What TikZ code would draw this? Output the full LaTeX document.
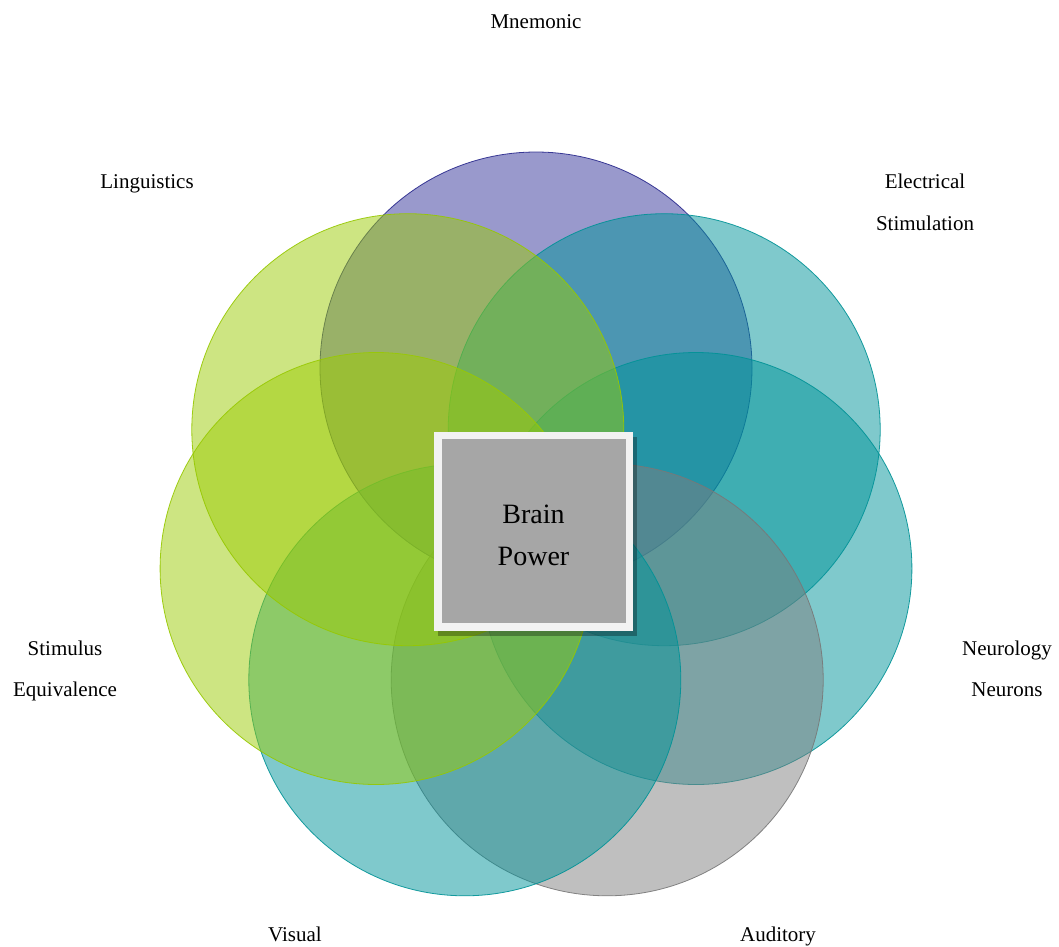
\documentclass[tikz,border=0pt]{standalone}
\usepackage{fontspec}
\setmainfont{Liberation Serif}
\usetikzlibrary{shadows}

\definecolor{violetfill}{RGB}{51,51,153}
\definecolor{violetline}{RGB}{40,40,140}
\definecolor{tealfill}{RGB}{0,147,153}
\definecolor{tealline}{RGB}{0,146,150}
\definecolor{limefill}{RGB}{155,203,5}
\definecolor{limeline}{RGB}{150,200,0}
\definecolor{greyfill}{RGB}{127,127,127}
\definecolor{greyline}{RGB}{120,120,120}
\definecolor{boxframe}{RGB}{242,242,242}
\definecolor{boxfill}{RGB}{166,166,166}

\begin{document}
\begin{tikzpicture}[x=1pt,y=-1pt,
  petal/.style 2 args={circle, minimum size=432pt, inner sep=0pt, outer sep=0pt,
    fill=#1, draw=#2, fill opacity=0.5, draw opacity=0.9, line width=0.8pt},
  lbl/.style={font=\fontsize{21}{24}\selectfont, anchor=base, inner sep=0pt},
  centrebox/.style={rectangle, minimum size=191.5pt, inner sep=0pt,
    fill=boxfill, draw=boxframe, line width=7.5pt, align=center,
    font=\fontsize{28}{42}\selectfont,
    drop shadow={shadow xshift=4pt, shadow yshift=-5.5pt, shadow scale=1.039,
      opacity=0.3, fill=black}},
]
\useasboundingbox (0,0) rectangle (1059,946);

% seven overlapping circles, arranged clockwise around the centre
\node[petal={violetfill}{violetline}] (mnemonic)   at (536.0,368.0) {};
\node[petal={tealfill}{tealline}]     (electrical) at (664.2,429.7) {};
\node[petal={tealfill}{tealline}]     (neurology)  at (695.9,568.5) {};
\node[petal={greyfill}{greyline}]     (auditory)   at (607.2,679.8) {};
\node[petal={tealfill}{tealline}]     (visual)     at (464.8,679.8) {};
\node[petal={limefill}{limeline}]     (stimulus)   at (376.1,568.5) {};
\node[petal={limefill}{limeline}]     (linguistics) at (407.8,429.7) {};

% central box
\node[centrebox] (brain) at (533.5,531) {\rule{0pt}{27pt}Brain\\Power};

% outer labels
\node[lbl] (lmnem)  at (536,28)   {Mnemonic};
\node[lbl] (lling)  at (147,188)  {Linguistics};
\node[lbl] (lelec1) at (925,188)  {Electrical};
\node[lbl] (lelec2) at (925,230)  {Stimulation};
\node[lbl] (lstim1) at (65,655)   {Stimulus};
\node[lbl] (lstim2) at (65,696)   {Equivalence};
\node[lbl] (lneur1) at (1007,655) {Neurology};
\node[lbl] (lneur2) at (1007,696) {Neurons};
\node[lbl] (lvis)   at (295,941)  {Visual};
\node[lbl] (laud)   at (778,941)  {Auditory};
\end{tikzpicture}
\end{document}
